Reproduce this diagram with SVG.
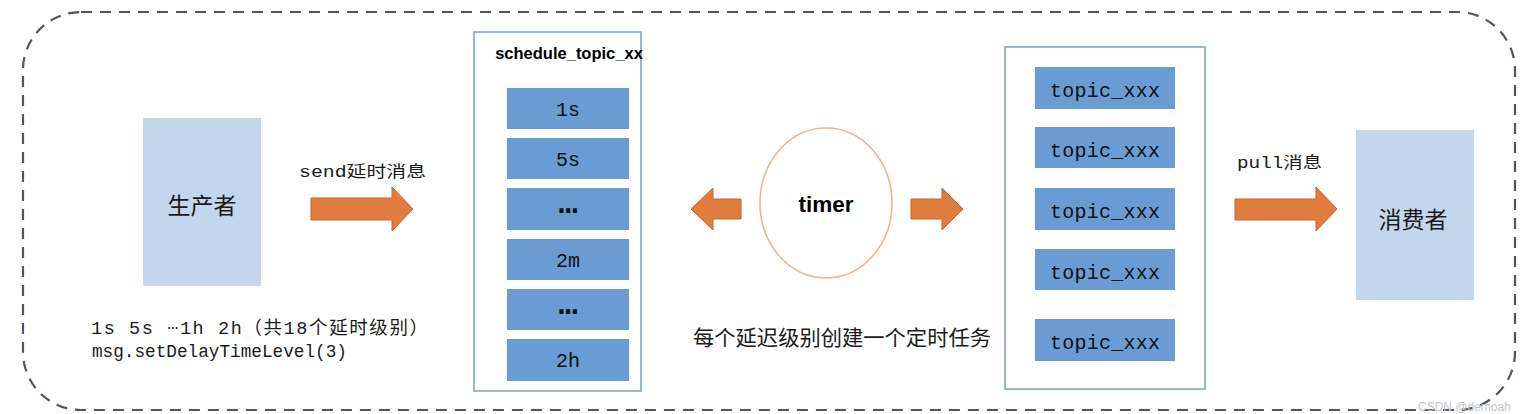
<svg xmlns="http://www.w3.org/2000/svg" width="1527" height="414" viewBox="0 0 1527 414">
<style>
.bg{fill:#ffffff}
.frame{fill:none;stroke:#4a5568;stroke-width:2.2;stroke-dasharray:11 8}
.actor{fill:#c2d6ec}
.box{fill:#ffffff;stroke:#7fa6d3;stroke-width:1.6}
.item{fill:#6a9bd2}
.arrow{fill:#e07d3e;stroke:#c2672c;stroke-width:1}
.timer{fill:#ffffff;stroke:#f0b58c;stroke-width:1.6}
.cjk{font-family:"Noto Sans CJK SC","Noto Sans",sans-serif;fill:#1a1a1a}
.mono{font-family:"Liberation Mono","Noto Sans CJK SC",monospace;fill:#1a1a1a}
.bold{font-family:"Liberation Sans",Arial,sans-serif;font-weight:bold;fill:#000}
.lbl{font-family:"Liberation Mono","Noto Sans CJK SC",monospace;font-size:20px;fill:#111}
.dots{font-family:"Liberation Mono",monospace;font-size:32px;font-weight:bold;fill:#111}
</style>
<rect class="bg" x="0" y="0" width="1527" height="414"/>
<rect class="frame" x="23" y="12" width="1492" height="398" rx="58" ry="58"/>

<g id="producer">
  <rect class="actor" x="143" y="118" width="118" height="168"/>
  <text class="cjk" x="202" y="214" font-size="23" text-anchor="middle">生产者</text>
</g>

<g id="producer-note">
  <text class="mono" x="91" y="334" font-size="18.5" letter-spacing="1.6">1s 5s <tspan dy="-5">…</tspan><tspan dy="5">1h 2h（共18个延时级别）</tspan></text>
  <text class="mono" x="92" y="357" font-size="18" textLength="255" lengthAdjust="spacingAndGlyphs">msg.setDelayTimeLevel(3)</text>
</g>

<g id="schedule_topic">
  <rect class="box" x="474" y="32" width="167" height="359"/>
  <text class="bold" x="569" y="59" font-size="16.5" text-anchor="middle">schedule_topic_xx</text>
  <rect class="item" x="507" y="88" width="122" height="41"/>
  <text class="lbl" x="568" y="116" text-anchor="middle">1s</text>
  <rect class="item" x="507" y="138" width="122" height="41"/>
  <text class="lbl" x="568" y="166" text-anchor="middle">5s</text>
  <rect class="item" x="507" y="188" width="122" height="42"/>
  <text class="dots" x="568" y="213" text-anchor="middle">…</text>
  <rect class="item" x="507" y="239" width="122" height="41"/>
  <text class="lbl" x="568" y="267" text-anchor="middle">2m</text>
  <rect class="item" x="507" y="289" width="122" height="41"/>
  <text class="dots" x="568" y="314" text-anchor="middle">…</text>
  <rect class="item" x="507" y="339" width="122" height="42"/>
  <text class="lbl" x="568" y="367" text-anchor="middle">2h</text>
</g>

<g id="timer">
  <ellipse class="timer" cx="826" cy="203" rx="66" ry="75"/>
  <text class="bold" x="826" y="212" font-size="22.5" text-anchor="middle">timer</text>
</g>

<g id="timer-note">
  <text class="cjk" x="693" y="345" font-size="21" textLength="298" lengthAdjust="spacingAndGlyphs">每个延迟级别创建一个定时任务</text>
</g>

<g id="topics">
  <rect class="box" x="1005" y="47" width="200" height="342"/>
  <rect class="item" x="1035" y="67" width="140" height="42"/>
  <text class="lbl" x="1105" y="97" text-anchor="middle" textLength="110">topic_xxx</text>
  <rect class="item" x="1035" y="127" width="140" height="41"/>
  <text class="lbl" x="1105" y="157" text-anchor="middle" textLength="110">topic_xxx</text>
  <rect class="item" x="1035" y="188" width="140" height="42"/>
  <text class="lbl" x="1105" y="218" text-anchor="middle" textLength="110">topic_xxx</text>
  <rect class="item" x="1035" y="249" width="140" height="41"/>
  <text class="lbl" x="1105" y="279" text-anchor="middle" textLength="110">topic_xxx</text>
  <rect class="item" x="1035" y="319" width="140" height="42"/>
  <text class="lbl" x="1105" y="349" text-anchor="middle" textLength="110">topic_xxx</text>
</g>

<g id="consumer">
  <rect class="actor" x="1356" y="130" width="118" height="170"/>
  <text class="cjk" x="1413" y="228" font-size="23" text-anchor="middle">消费者</text>
</g>

<g id="connectors">
  <path class="arrow" d="M311,198 H392 V187 L413,209 L392,231 V220 H311 Z"/>
  <text class="mono" x="299" y="177" font-size="16" textLength="127" lengthAdjust="spacingAndGlyphs">send延时消息</text>
  <path class="arrow" d="M741,199 H713 V188 L691,209 L713,230 V219 H741 Z"/>
  <path class="arrow" d="M911,199 H942 V188 L963,209 L942,230 V219 H911 Z"/>
  <path class="arrow" d="M1235,199 H1316 V187 L1337,209 L1316,231 V220 H1235 Z"/>
  <text class="mono" x="1237" y="168" font-size="16" textLength="85" lengthAdjust="spacingAndGlyphs">pull消息</text>
</g>

<text x="1418" y="411" font-family="Liberation Sans,Arial,sans-serif" font-size="12" fill="#c4c4c4">CSDN @demoah</text>
</svg>
